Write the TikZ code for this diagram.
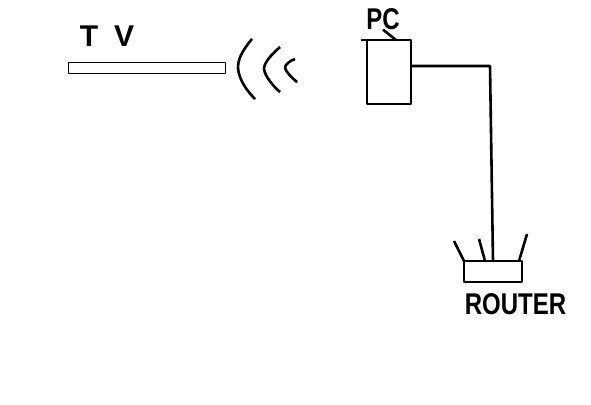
\documentclass[tikz,border=0pt]{standalone}
\usepackage{fontspec}
\setmainfont{Liberation Sans}
\usetikzlibrary{positioning}

\begin{document}
\begin{tikzpicture}[
  x=1pt,y=-1pt,
  line width=2.6pt,
  line join=round,
  box/.style={draw,inner sep=0pt,outer sep=0pt},
  label/.style={inner sep=0pt,outer sep=0pt,font=\fontsize{30}{30}\selectfont\bfseries,xscale=0.8,transform shape}
]%
  \useasboundingbox (0,0) rectangle (591,404);

  \node (tv) [box,line width=0.9pt,minimum width=157pt,minimum height=11pt] at (146.5,67.5) {};
  \node (tvlabel) [label,xscale=1.25] at (107,36) {T\hspace{16pt}V};

  % waves
  \draw (252,39) .. controls (241,52) and (238,60) .. (238,68) .. controls (239,80) and (247,91) .. (255,99);
  \draw (280,47) .. controls (270,56) and (264,63) .. (264,69) .. controls (265,76) and (272,85) .. (280,92);
  \draw (295,59) .. controls (290,61) and (285,64) .. (285,68) .. controls (286,72) and (292,78) .. (297,82);

  \node (pc) [box,minimum width=44pt,minimum height=64pt] at (389,72) {};
  \node (pclabel) [label] at (383,19) {PC};
  \coordinate (pctop) at (361,40);
  \coordinate (pctail) at (396,40);
  \draw (pctop) -- (pc.north west);
  \draw (pclabel.south) -- (pctail);

  \node (router) [box,minimum width=58pt,minimum height=21pt] at (493,271.5) {};
  \node (routerlabel) [label] at (515.5,304) {ROUTER};

  % wire
  \coordinate (wirecorner) at (490,66);
  \coordinate (wireend) at (493,261);
  \draw (pc.east |- wirecorner) -- (wirecorner) -- (wireend);

  % antennas
  \coordinate (ant1) at (454,241);
  \coordinate (ant2) at (479,239);
  \coordinate (ant3) at (527,234);
  \draw (ant1) -- (464,261);
  \draw (ant2) -- (485,261);
  \draw (ant3) -- (519,261);
\end{tikzpicture}
\end{document}
